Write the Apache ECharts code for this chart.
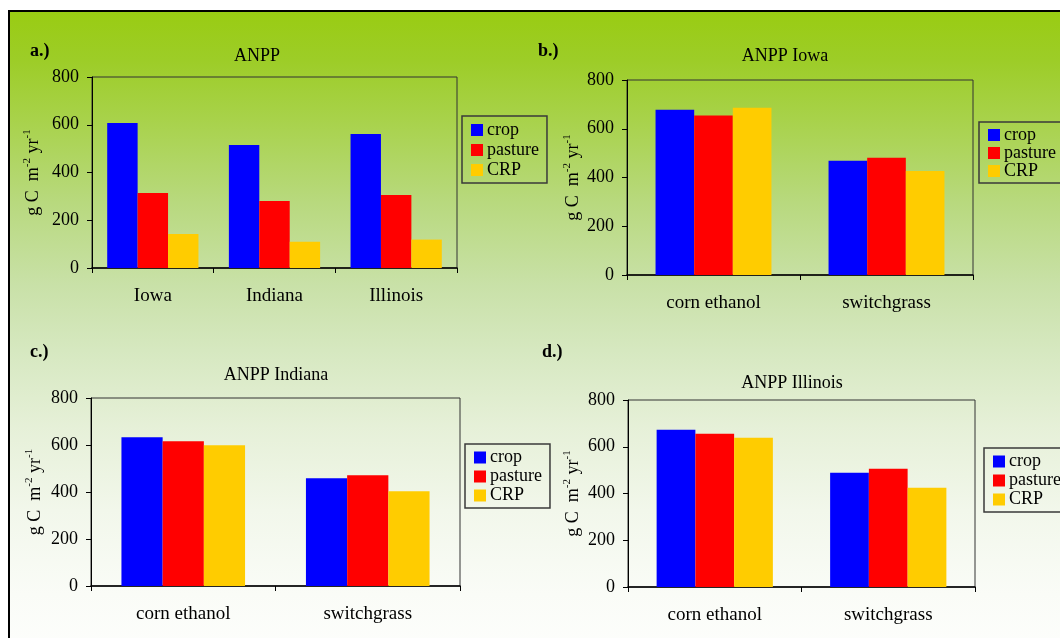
<!DOCTYPE html>
<html>
<head>
<meta charset="utf-8">
<script src="https://cdn.jsdelivr.net/npm/echarts@6/dist/echarts.min.js"></script>
<style>
html,body{margin:0;padding:0;background:#fff;}
#chart{width:1060px;height:638px;}
</style>
</head>
<body>
<div id="chart"></div>
<script>
// ---- data ----
const statesCats = ['Iowa', 'Indiana', 'Illinois'];
const fuelCats = ['corn ethanol', 'switchgrass'];
const seriesNames = ['crop', 'pasture', 'CRP'];
const yTicks = [0, 200, 400, 600, 800];

const aCrop = [607, 515, 561];
const aPasture = [314, 281, 306];
const aCRP = [142, 110, 119];

const bCrop = [678, 469];
const bPasture = [654, 481];
const bCRP = [686, 427];

const cCrop = [633, 458];
const cPasture = [616, 471];
const cCRP = [599, 403];

const dCrop = [673, 489];
const dPasture = [656, 506];
const dCRP = [639, 425];

const panelTitles = ['ANPP', 'ANPP Iowa', 'ANPP Indiana', 'ANPP Illinois'];
const panelTags = ['a.)', 'b.)', 'c.)', 'd.)'];

// ---- styling ----
const FONT = '"Liberation Serif", "Times New Roman", serif';
const colors = ['#0000FF', '#FF0000', '#FFCC00'];

const grids = [
  {left: 92, top: 77, width: 365, height: 191},
  {left: 627, top: 80, width: 346, height: 195},
  {left: 91, top: 398, width: 369, height: 188},
  {left: 628, top: 400, width: 347, height: 187}
];
const nameGaps = [48, 43, 45, 44];
const catGaps = ['25%', '33%', '33%', '33%'];
const panelCats = [statesCats, fuelCats, fuelCats, fuelCats];
const panelData = [
  [aCrop, aPasture, aCRP],
  [bCrop, bPasture, bCRP],
  [cCrop, cPasture, cCRP],
  [dCrop, dPasture, dCRP]
];
const legendPos = [
  {left: 462, top: 116, lh: 20},
  {left: 979, top: 122, lh: 18},
  {left: 465, top: 444, lh: 19},
  {left: 984, top: 448, lh: 19}
];
const titlePos = [[257, 56], [785, 56], [276, 375], [792, 383]];
const tagPos = [[30, 51], [538, 51], [30, 352], [542, 352]];

const xAxes = [], yAxes = [], series = [], legends = [], graphics = [];

graphics.push({
  type: 'rect', z: -10, silent: true,
  shape: {x: 9, y: 11, width: 1070, height: 640},
  style: {
    fill: new echarts.graphic.LinearGradient(0, 0, 0, 1, [
      {offset: 0, color: '#99CC12'},
      {offset: 0.08, color: '#9DCD28'},
      {offset: 0.17, color: '#A8D24A'},
      {offset: 0.30, color: '#B8D97E'},
      {offset: 0.43, color: '#C9E1A8'},
      {offset: 0.53, color: '#D6E8C0'},
      {offset: 0.65, color: '#E6F0D8'},
      {offset: 0.78, color: '#F2F7EB'},
      {offset: 0.91, color: '#FAFCF7'},
      {offset: 1, color: '#FDFEFC'}
    ]),
    stroke: '#000', lineWidth: 2
  }
});

for (let p = 0; p < 4; p++) {
  xAxes.push({
    type: 'category', gridIndex: p, data: panelCats[p],
    axisLine: {lineStyle: {color: '#000', width: 1.5}},
    axisTick: {show: true, length: 5, lineStyle: {color: '#000'}},
    axisLabel: {color: '#000', fontFamily: FONT, fontSize: 19, margin: 19}
  });
  yAxes.push({
    type: 'value', gridIndex: p, min: 0, max: yTicks[yTicks.length - 1], interval: 200,
    axisLine: {show: true, lineStyle: {color: '#000', width: 1}},
    axisTick: {show: true, length: 5, lineStyle: {color: '#000'}},
    splitLine: {show: false},
    axisLabel: {color: '#000', fontFamily: FONT, fontSize: 18, margin: 13},
    name: '{m|g C  m}{s|-2}{m| yr}{s|-1}',
    nameLocation: 'middle', nameRotate: 90, nameGap: nameGaps[p],
    nameTextStyle: {
      color: '#000', fontFamily: FONT, fontSize: 18,
      rich: {
        m: {fontFamily: FONT, fontSize: 18, lineHeight: 22, color: '#000'},
        s: {fontFamily: FONT, fontSize: 11, lineHeight: 22, verticalAlign: 'top', color: '#000'}
      }
    }
  });
  for (let s = 0; s < 3; s++) {
    series.push({
      type: 'bar', name: seriesNames[s], xAxisIndex: p, yAxisIndex: p,
      data: panelData[p][s], barGap: '0%', barCategoryGap: catGaps[p],
      itemStyle: {color: colors[s]}, emphasis: {disabled: true}
    });
  }
  legends.push({
    orient: 'vertical', left: legendPos[p].left, top: legendPos[p].top,
    data: seriesNames, icon: 'rect', itemWidth: 12, itemHeight: 12, itemGap: 0,
    padding: [4, 8, 3, 9], borderColor: '#3a3a3a', borderWidth: 1.5,
    backgroundColor: 'transparent', selectedMode: false,
    textStyle: {color: '#000', fontFamily: FONT, fontSize: 18, lineHeight: legendPos[p].lh, padding: [0, 0, 0, -1]}
  });
  graphics.push({
    type: 'text', x: titlePos[p][0], y: titlePos[p][1],
    style: {text: panelTitles[p], font: '18px ' + FONT, fill: '#000',
      textAlign: 'center', textVerticalAlign: 'middle', align: 'center', verticalAlign: 'middle'}
  });
  graphics.push({
    type: 'text', x: tagPos[p][0], y: tagPos[p][1],
    style: {text: panelTags[p], font: 'bold 18px ' + FONT, fill: '#000',
      textAlign: 'left', textVerticalAlign: 'middle', align: 'left', verticalAlign: 'middle'}
  });
}

const chart = echarts.init(document.getElementById('chart'), null, {renderer: 'canvas'});
chart.setOption({
  animation: false,
  backgroundColor: '#fff',
  grid: grids.map(g => Object.assign({show: true, borderColor: '#333', borderWidth: 1, backgroundColor: 'transparent', containLabel: false}, g)),
  xAxis: xAxes,
  yAxis: yAxes,
  legend: legends,
  graphic: graphics,
  series: series
});
</script>
</body>
</html>
